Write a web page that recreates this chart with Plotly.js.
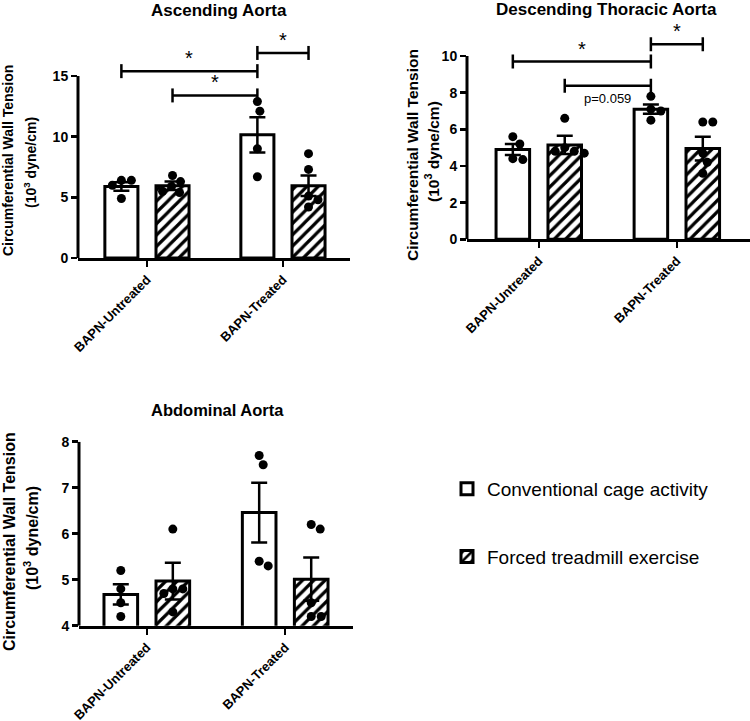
<!DOCTYPE html>
<html>
<head>
<meta charset="utf-8">
<script src="https://cdn.plot.ly/plotly-3.0.1.min.js"></script>
<style>html,body{margin:0;padding:0;background:#fff;}#chart{width:750px;height:721px;}</style>
</head>
<body>
<div id="chart"></div>
<script>
// ---------------- DATA ----------------
const categories = ['BAPN-Untreated', 'BAPN-Treated'];
const seriesNames = ['Conventional cage activity', 'Forced treadmill exercise'];

// Ascending Aorta
const ascConvMean = [5.9, 10.15];
const ascConvSem  = [0.35, 1.45];
const ascForcMean = [5.95, 5.95];
const ascForcSem  = [0.35, 0.85];
const ascConvPts  = [[6.4, 6.4, 6.0, 4.9], [12.9, 12.1, 9.0, 6.7]];
const ascForcPts  = [[6.8, 6.3, 5.9, 5.5, 5.4], [8.6, 7.3, 5.1, 4.8, 4.2]];
// brackets: bar index 0..3 = (cat0 conv, cat0 forced, cat1 conv, cat1 forced)
const ascBrFrom  = [0, 2, 1];
const ascBrTo    = [2, 3, 2];
const ascBrY     = [15.4, 16.9, 13.4];
const ascBrLabel = ['*', '*', '*'];

// Descending Thoracic Aorta
const descConvMean = [4.9, 7.1];
const descConvSem  = [0.3, 0.25];
const descForcMean = [5.15, 4.95];
const descForcSem  = [0.5, 0.65];
const descConvPts  = [[5.6, 5.2, 4.4, 4.35], [7.8, 7.1, 7.0, 6.5]];
const descForcPts  = [[6.6, 5.0, 4.8, 4.8, 4.7], [6.4, 6.4, 4.7, 4.2, 3.6]];
const descBrFrom  = [0, 2, 1];
const descBrTo    = [2, 3, 2];
const descBrY     = [9.7, 10.64, 8.38];
const descBrLabel = ['*', '*', 'p=0.059'];

// Abdominal Aorta
const abdConvMean = [4.68, 6.46];
const abdConvSem  = [0.22, 0.65];
const abdForcMean = [4.97, 5.01];
const abdForcSem  = [0.4, 0.47];
const abdConvPts  = [[5.2, 4.8, 4.5, 4.2], [7.7, 7.5, 5.4, 5.3]];
const abdForcPts  = [[6.1, 4.8, 4.8, 4.7, 4.3], [6.2, 6.1, 4.5, 4.2, 4.2]];

// tick values
const ascTicks  = [0, 5, 10, 15];
const descTicks = [0, 2, 4, 6, 8, 10];
const abdTicks  = [4, 5, 6, 7, 8];

// ---------------- STYLE / LAYOUT ----------------
const W = 750, H = 721;
const FONT = '"Liberation Sans", Arial, sans-serif';
const SHIFT = 0.188, BAR_W = 0.243;
const DOT = 9;

const panels = [
  { title: 'Ascending Aorta', titlePos: [219, 11], titleSize: 17,
    ytl: [[8, 161], [30, 163]], ytSize: 14, tickSize: 14,
    xpx: [78, 350], xr: [-0.507, 1.493], ypx: [258, 42.03], yr: [0, 17.8], yline: [0, 15], ticks: ascTicks,
    convMean: ascConvMean, convSem: ascConvSem, forcMean: ascForcMean, forcSem: ascForcSem,
    convPts: ascConvPts, forcPts: ascForcPts,
    brFrom: ascBrFrom, brTo: ascBrTo, brY: ascBrY, brLabel: ascBrLabel },
  { title: 'Descending Thoracic Aorta', titlePos: [606, 10], titleSize: 17,
    ytl: [[412, 155], [432, 151]], ytSize: 15.5, tickSize: 14,
    xpx: [467, 750], xr: [-0.52, 1.53], ypx: [239.3, 32.2], yr: [0, 11.3], yline: [0, 10], ticks: descTicks,
    convMean: descConvMean, convSem: descConvSem, forcMean: descForcMean, forcSem: descForcSem,
    convPts: descConvPts, forcPts: descForcPts,
    brFrom: descBrFrom, brTo: descBrTo, brY: descBrY, brLabel: descBrLabel },
  { title: 'Abdominal Aorta', titlePos: [217, 410], titleSize: 16.5,
    ytl: [[9, 542], [31, 538]], ytSize: 16, tickSize: 14,
    xpx: [79, 353], xr: [-0.49, 1.49], ypx: [625.7, 441.7], yr: [4, 8], yline: [4, 8], ticks: abdTicks,
    convMean: abdConvMean, convSem: abdConvSem, forcMean: abdForcMean, forcSem: abdForcSem,
    convPts: abdConvPts, forcPts: abdForcPts,
    brFrom: [], brTo: [], brY: [], brLabel: [] }
];

// simple deterministic beeswarm (pixel offsets)
function swarm(vals, pxPerY, d) {
  const placed = [], out = [];
  vals.forEach(v => {
    const y = v * pxPerY;
    let chosen = 0;
    for (let k = 0; k < 200; k++) {
      const cands = k === 0 ? [0] : [k * 0.5, -k * 0.5];
      let ok = null;
      for (const c of cands) {
        if (placed.every(p => (p[0] - c) ** 2 + (p[1] - y) ** 2 >= d * d)) { ok = c; break; }
      }
      if (ok !== null) { chosen = ok; break; }
    }
    placed.push([chosen, y]);
    out.push(chosen);
  });
  return out;
}

const traces = [], shapes = [], annotations = [];
const layout = {
  width: W, height: H, margin: {l: 0, r: 0, t: 0, b: 0},
  paper_bgcolor: 'white', plot_bgcolor: 'white', barmode: 'overlay',
  font: {family: FONT, color: 'black'},
  showlegend: true,
  legend: {x: 447 / W, y: 1 - 470 / H, xanchor: 'left', yanchor: 'top',
           font: {family: FONT, size: 19, color: 'black'}, tracegroupgap: 40,
           traceorder: 'grouped', bgcolor: 'rgba(0,0,0,0)'},
  shapes: shapes, annotations: annotations
};

panels.forEach((p, i) => {
  const sfx = i === 0 ? '' : String(i + 1);
  const xa = 'x' + sfx, ya = 'y' + sfx;
  const pxX = (p.xpx[1] - p.xpx[0]) / (p.xr[1] - p.xr[0]);
  const pxY = (p.ypx[0] - p.ypx[1]) / (p.yr[1] - p.yr[0]);
  layout['xaxis' + sfx] = {
    domain: [p.xpx[0] / W, p.xpx[1] / W], range: p.xr, anchor: ya,
    tickvals: [0, 1], ticktext: categories, tickangle: -45,
    tickfont: {family: FONT, size: 13, weight: 'bold', color: 'black'},
    ticks: 'outside', ticklen: 6, tickwidth: 2.5, tickcolor: 'black',
    showline: true, linewidth: 3, linecolor: 'black',
    showgrid: false, zeroline: false, fixedrange: true
  };
  layout['yaxis' + sfx] = {
    domain: [(H - p.ypx[0]) / H, (H - p.ypx[1]) / H], range: p.yr, anchor: xa,
    tickvals: p.ticks, ticks: 'outside', ticklen: 6, tickwidth: 2.5, tickcolor: 'black',
    tickfont: {family: FONT, size: p.tickSize, weight: 'bold', color: 'black'},
    showline: false, showgrid: false, zeroline: false, fixedrange: true
  };
  // y axis line (only up to last tick)
  shapes.push({type: 'line', xref: xa + ' domain', yref: ya, x0: 0, x1: 0,
    y0: p.yline[0], y1: p.yline[1], line: {color: 'black', width: 3}});

  const groups = [
    {mean: p.convMean, sem: p.convSem, pts: p.convPts, off: -SHIFT, name: seriesNames[0], pattern: null},
    {mean: p.forcMean, sem: p.forcSem, pts: p.forcPts, off: SHIFT, name: seriesNames[1],
     pattern: {shape: '/', fgcolor: 'black', bgcolor: 'white', size: 8, solidity: 0.4, fillmode: 'replace'}}
  ];
  groups.forEach((g, gi) => {
    const marker = {color: 'white', line: {color: 'black', width: 3}};
    if (g.pattern) marker.pattern = g.pattern;
    traces.push({
      type: 'bar', x: [0, 1], y: g.mean, xaxis: xa, yaxis: ya,
      width: BAR_W, offset: g.off - BAR_W / 2, marker: marker,
      error_y: {type: 'data', array: g.sem, visible: true, color: 'black', thickness: 2.5, width: 8},
      name: g.name, legendgroup: 'g' + gi, showlegend: i === 0, hoverinfo: 'y'
    });
  });
  groups.forEach((g) => {
    const xs = [], ys = [];
    g.pts.forEach((vals, c) => {
      const offs = swarm(vals, pxY, DOT + 1);
      vals.forEach((v, k) => { xs.push(c + g.off + offs[k] / pxX); ys.push(v); });
    });
    traces.push({type: 'scatter', mode: 'markers', x: xs, y: ys, xaxis: xa, yaxis: ya,
      marker: {color: 'black', size: DOT}, showlegend: false, hoverinfo: 'y', cliponaxis: false});
  });

  // brackets
  const barX = idx => Math.floor(idx / 2) + (idx % 2 === 0 ? -SHIFT : SHIFT);
  p.brY.forEach((yv, k) => {
    const x0 = barX(p.brFrom[k]), x1 = barX(p.brTo[k]);
    const ln = {color: 'black', width: 2.5};
    shapes.push({type: 'line', xref: xa, yref: ya, x0: x0, x1: x1, y0: yv, y1: yv, line: ln});
    [x0, x1].forEach(xx => shapes.push({type: 'line', xref: xa, yref: ya, ysizemode: 'pixel',
      yanchor: yv, y0: -7, y1: 7, x0: xx, x1: xx, line: ln}));
    const lab = p.brLabel[k];
    const star = lab === '*';
    annotations.push({xref: xa, yref: ya, x: (x0 + x1) / 2, y: yv, text: lab, showarrow: false,
      yanchor: star ? 'bottom' : 'top', yshift: star ? 0 : -3,
      font: {family: FONT, size: star ? 20 : 13, color: 'black'}});
  });

  // panel title
  annotations.push({xref: 'paper', yref: 'paper', x: p.titlePos[0] / W, y: 1 - p.titlePos[1] / H,
    xanchor: 'center', yanchor: 'middle', text: p.title, showarrow: false,
    font: {family: FONT, size: p.titleSize, weight: 'bold', color: 'black'}});
  // y-axis title (two lines)
  const ytText = ['Circumferential Wall Tension', '(10<sup>3</sup> dyne/cm)'];
  p.ytl.forEach((pos, k) => annotations.push({xref: 'paper', yref: 'paper', x: pos[0] / W, y: 1 - pos[1] / H,
    xanchor: 'center', yanchor: 'middle', textangle: -90, text: ytText[k], showarrow: false,
    font: {family: FONT, size: p.ytSize, weight: 'bold', color: 'black'}}));
});

Plotly.newPlot('chart', traces, layout, {displayModeBar: false, staticPlot: true});
</script>
</body>
</html>
